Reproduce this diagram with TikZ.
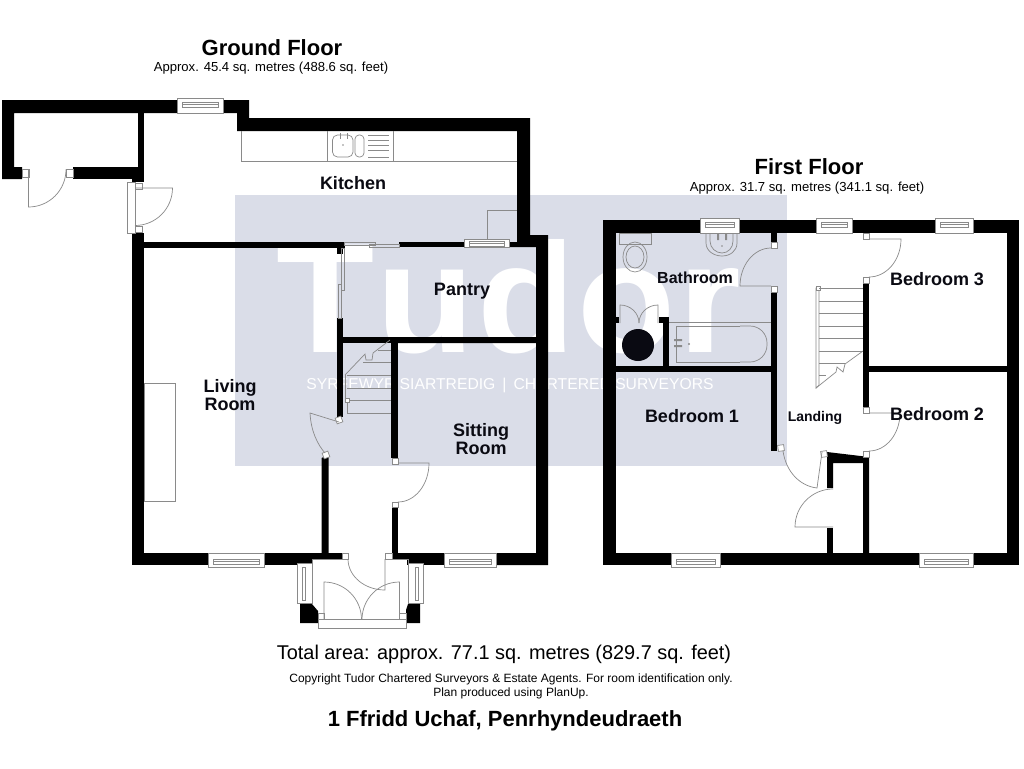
\documentclass[tikz,border=0pt]{standalone}
\usepackage{fontspec}
\setmainfont{Liberation Sans}
\definecolor{wmark}{HTML}{DADDE8}
\definecolor{thinline}{HTML}{8A8A8A}
\definecolor{inkblue}{HTML}{0A0A12}
\tikzset{
  wall/.style = {fill=black, draw=none},
  thin/.style = {draw=thinline, line width=0.7pt},
  room/.style = {font=\fontsize{18}{18}\selectfont\bfseries, align=center, text=inkblue},
  title/.style = {font=\fontsize{22}{24}\selectfont\bfseries},
  sub/.style = {font=\fontsize{13.1}{14}\selectfont}
}
\newcommand{\windowh}[5]{% x1, x2, ytop, ybot, inner top
  \draw[thin, fill=white] (#1,#3) rectangle (#2,#4);
  \draw[thin] (#1+5,#5) rectangle (#2-5,#5+5);
  \draw[thin] (#1+5,#5+2.5) -- (#2-5,#5+2.5);
}
\begin{document}
\begin{tikzpicture}[x=1pt, y=-1pt]
  \useasboundingbox (0,0) rectangle (1024,768);
  \fill[white] (0,0) rectangle (1024,768);

  % watermark
  \fill[wmark] (235,195) rectangle (787,466);
  \node[text=white, inner sep=0pt, font=\fontsize{156}{156}\selectfont\bfseries\addfontfeatures{Kerning=Off,LetterSpace=1.5}, xscale=1.03, anchor=base] (logo) at (508.5,352) {Tudor};
  \node[text=white, font=\fontsize{15.7}{16}\selectfont] (strap) at (510,385) {SYRFEWYR SIARTREDIG\hspace{7pt}|\hspace{7pt}CHARTERED SURVEYORS};

  % ground floor walls
  \fill[wall] (2,100) -- (177,100) -- (177,113) -- (14,113) -- (14,167) -- (22,167) -- (22,179) -- (2,179) -- cycle;
  \fill[wall] (223,100) -- (249,100) -- (249,118) -- (530,118) -- (530,235) -- (548,235) -- (548,565) -- (496,565) -- (496,553)
     -- (536,553) -- (536,343) -- (398,343) -- (398,337) -- (536,337) -- (536,247) -- (509,247) -- (509,242) -- (517,242) -- (517,131)
     -- (237,131) -- (237,113) -- (223,113) -- cycle;
  \fill[wall] (138,113) rectangle (144,182);
  \fill[wall] (73,167) rectangle (144,179);
  \fill[wall] (132,179) rectangle (144,182);
  \fill[wall] (132,233) rectangle (144,565);
  \fill[wall] (144,242) rectangle (345,248);
  \fill[wall] (399,242) rectangle (464,247);
  \fill[wall] (337,248) rectangle (343,254);
  \fill[wall] (337,318) rectangle (343,417);
  \fill[wall] (343,337) rectangle (398,343);
  \fill[wall] (391,337) rectangle (398,458);
  \fill[wall] (392,507) rectangle (398,553);
  \fill[wall] (321.5,458) -- (328.5,455) -- (328.5,553) -- (321.5,553) -- cycle;
  \fill[wall] (132,553) rectangle (342,565);
  \fill[wall] (392,553) rectangle (444,565);
  \fill[wall] (444,553) rectangle (548,565);

  % porch
  \fill[white] (313,559) rectangle (407,620);
  \fill[wall] (300,604) -- (312,604) -- (318,611) -- (318,623) -- (300,623) -- cycle;
  \fill[wall] (408,604) -- (420,604) -- (420,623) -- (406,623) -- (406,610) -- cycle;
  \draw[thin] (312,559) -- (342,559) (385,559) -- (408,559) (312,559) -- (312,604) (408,559) -- (408,604);
  \draw[thin, fill=white] (297,563) rectangle (312,603);
  \draw[thin] (302,567) rectangle (305,600);
  \draw[thin, fill=white] (408,563) rectangle (423,603);
  \draw[thin] (415,567) rectangle (418,600);
  \draw[thin, fill=white] (318,619) rectangle (406,628);
  \draw[thin, fill=white] (318,613) rectangle (324,619) (399.5,613) rectangle (406,619);
  \draw[thin, fill=white] (342,553) rectangle (348,559) (385,553) rectangle (392,559);
  \draw[thin] (324,619) -- (324,582) arc[start angle=270, end angle=360, radius=37.5];
  \draw[thin] (399.5,619) -- (399.5,582) arc[start angle=270, end angle=180, radius=37.5];
  \draw[thin] (385,559) -- (385,590) arc[start angle=90, end angle=180, x radius=37, y radius=31];

  % ground floor doors
  \draw[thin, fill=white] (22,169) rectangle (29,177) (66,169) rectangle (73,177);
  \draw[thin] (28.5,170) -- (28.5,207) arc[start angle=90, end angle=0, radius=37.5];
  \draw[thin, fill=white] (127,182) rectangle (135,233);
  \draw[thin, fill=white] (135,183) rectangle (142,189) (135,226) rectangle (142,232);
  \draw[thin] (135,188) -- (172.5,188) arc[start angle=0, end angle=90, radius=37.5];
  \draw[thin, fill=white] (392,458) rectangle (398,464) (392,502) rectangle (398,507);
  \draw[thin] (398,463) -- (429,463) arc[start angle=0, end angle=90, x radius=31, y radius=39];
  \draw[thin, fill=white, rotate around={20:(339,420)}] (336,417) rectangle (342,423);
  \draw[thin, fill=white, rotate around={20:(326,455)}] (323,452) rectangle (329,458);
  \draw[thin] (339,422) -- (310,413) .. controls (311,432) and (318,445) .. (325,453);

  % sliding doors, kitchen to pantry
  \draw[thin] (344,242) -- (375,242) -- (375,245) -- (344,245) -- cycle;
  \draw[thin] (369,244.5) -- (399,244.5) -- (399,247.5) -- (369,247.5) -- cycle;
  \draw[thin] (341,248) -- (344,248) -- (344,290) -- (341,290) -- cycle;
  \draw[thin] (338,284) -- (341,284) -- (341,318) -- (338,318) -- cycle;

  % stairs, ground
  \foreach \y in {375,388,400,413} {
    \draw[thin] (347,\y) -- (391,\y);
  }
  \draw[thin] (363,362.5) -- (391,362.5) (378,350.5) -- (391,350.5);
  \draw[thin] (345,375) -- (345,398) (347,402) -- (347,413);
  \draw[thin, fill=white] (345,398) rectangle (349,402);
  \draw[thin] (345,375) -- (365,354) -- (366,360) -- (372,360) -- (373,353) -- (390,340);

  % kitchen fittings
  \draw[thin] (241,131) -- (241,161.5) -- (517,161.5);
  \draw[thin] (327.5,131) -- (327.5,161.5) (393.5,131) -- (393.5,161.5);
  \draw[thin, rounded corners=5pt] (332.5,135) rectangle (353,157);
  \draw[thin, rounded corners=4pt] (355,135) rectangle (364,157);
  \foreach \y in {135,140,145,150,157} {
    \draw[thin] (368,\y) -- (389,\y);
  }
  \draw[thin] (340,133) -- (340,139) (347,133) -- (347,139);
  \fill[thinline] (343,145) circle (0.8);
  \draw[thin] (487,239) -- (487,210) -- (517,210);
  \draw[thin] (144,383) rectangle (175.5,501);

  % ground floor windows
  \windowh{177}{223}{98}{113}{102}
  \windowh{464}{509}{239}{247}{241}
  \windowh{208}{264}{553}{567}{559}
  \windowh{444}{496}{553}{567}{559}

  % first floor walls
  \fill[wall] (603,220) rectangle (700,233);
  \fill[wall] (739,220) rectangle (816,233);
  \fill[wall] (852,220) rectangle (935,233);
  \fill[wall] (973,220) rectangle (1019,233);
  \fill[wall] (603,220) rectangle (616,565);
  \fill[wall] (1007,220) rectangle (1019,565);
  \fill[wall] (603,553) rectangle (672,565);
  \fill[wall] (720,553) rectangle (919,565);
  \fill[wall] (973,553) rectangle (1019,565);
  \fill[wall] (771,233) rectangle (777,242);
  \fill[wall] (771,292) rectangle (777,451);
  \fill[wall] (616,366) rectangle (771,372);
  \fill[wall] (663,317) rectangle (669,366);
  \fill[wall] (659,317) rectangle (669,323);
  \fill[wall] (616,317) rectangle (619,323);
  \fill[wall] (863,283) rectangle (869,407);
  \fill[wall] (869,366) rectangle (1007,372);
  \fill[wall] (827,452) -- (869,457) -- (869,553) -- (863,553) -- (863,463) -- (833,463) -- (833,488) -- (827,488) -- cycle;
  \fill[wall] (827,528) rectangle (833,553);

  % first floor doors
  \draw[thin, fill=white] (771,242) rectangle (777,248) (771,286) rectangle (777,292);
  \draw[thin] (771,286) -- (740,286) arc[start angle=180, end angle=270, x radius=31, y radius=38];
  \draw[thin, fill=white] (863,233) rectangle (869,239) (863,277) rectangle (869,283);
  \draw[thin] (869,239) -- (901,239) arc[start angle=0, end angle=90, x radius=32, y radius=38];
  \draw[thin, fill=white] (863,407) rectangle (869,413) (863,451) rectangle (869,457);
  \draw[thin] (869,413) -- (900,413) arc[start angle=0, end angle=90, x radius=31, y radius=38];
  \draw[thin, fill=white, rotate around={8:(781,448)}] (778,445) rectangle (784,451);
  \draw[thin, fill=white, rotate around={8:(824,454)}] (821,451) rectangle (827,457);
  \draw[thin] (822,452) -- (817,488) .. controls (800,486) and (786,472) .. (783,451);
  \draw[thin] (833,527) -- (795,527) arc[start angle=180, end angle=270, x radius=38, y radius=38];

  % stairs, first
  \draw[thin] (816,288) -- (819,288) -- (819,385) -- (816,388) -- cycle;
  \draw[thin, fill=white] (816,286) rectangle (820,290);
  \foreach \y in {288,301,313,326,338,351} {
    \draw[thin] (819,\y) -- (863,\y);
  }
  \draw[thin] (819,363) -- (845,363) (819,375.5) -- (826,375.5);
  \draw[thin] (816,388) -- (836,372) -- (837,367) -- (843,372) -- (845,364) -- (863,351);

  % bathroom fittings
  \draw[thin] (619,233) rectangle (651,244);
  \draw[thin] (635,257) ellipse[x radius=12, y radius=15];
  \draw[thin] (635,257) ellipse[x radius=9, y radius=11];
  \draw[thin] (706,233) -- (706,243) .. controls (706,251) and (714,256) .. (722,256) .. controls (730,256) and (737,251) .. (737,243) -- (737,233);
  \draw[thin] (710,233) -- (710,241) .. controls (710,248) and (716,253) .. (722,253) .. controls (728,253) and (733,248) .. (733,241) -- (733,233);
  \fill[thinline] (717,234) rectangle (719,240) (725,234) rectangle (727,240);
  \fill[thinline] (722,246) circle (0.8);
  \draw[thin] (669,322) -- (771,322);
  \draw[thin, rounded corners=17pt] (740,326) -- (767,326) -- (767,362) -- (740,362);
  \draw[thin] (740,326) -- (676,326) -- (676,362) -- (740,362);
  \fill[thinline] (674,339) rectangle (682,341) (674,345) rectangle (682,347);
  \fill[thinline] (689,344) circle (1.2);
  \draw[thin] (620,323) -- (620,305) arc[start angle=270, end angle=360, x radius=19, y radius=18];
  \draw[thin] (658,323) -- (658,305) arc[start angle=270, end angle=180, x radius=19, y radius=18];
  \fill[inkblue] (638,345) circle (16);

  % first floor windows
  \windowh{700}{739}{218}{233}{222}
  \windowh{816}{852}{218}{233}{222}
  \windowh{935}{973}{218}{233}{222}
  \windowh{671}{720}{553}{567}{559}
  \windowh{919}{973}{553}{567}{559}

  % labels
  \node[title] (ground) at (272,48) {Ground Floor};
  \node[sub] (groundarea) at (271,68) {Approx. 45.4 sq. metres (488.6 sq. feet)};
  \node[title] (first) at (809,167) {First Floor};
  \node[sub] (firstarea) at (807,188) {Approx. 31.7 sq. metres (341.1 sq. feet)};
  \node[room] (kitchen) at (353,183) {Kitchen};
  \node[room] (pantry) at (462,291) {Pantry};
  \node[room] (living) at (230,395) {Living\\Room};
  \node[room] (sitting) at (481,439) {Sitting\\Room};
  \node[room, font=\fontsize{16}{16}\selectfont\bfseries] (bath) at (695,278) {Bathroom};
  \node[room] (bedone) at (692,416) {Bedroom 1};
  \node[room] (bedtwo) at (937,414) {Bedroom 2};
  \node[room] (bedthree) at (937,279) {Bedroom 3};
  \node[room, font=\fontsize{14}{16}\selectfont\bfseries] (landing) at (815,418) {Landing};
  \node[font=\fontsize{19.9}{20}\selectfont] (total) at (504,654) {Total area: approx. 77.1 sq. metres (829.7 sq. feet)};
  \node[font=\fontsize{12}{14}\selectfont, align=center] (copy) at (511,686) {Copyright Tudor Chartered Surveyors \& Estate Agents. For room identification only.\\Plan produced using PlanUp.};
  \node[font=\fontsize{22}{22}\selectfont\bfseries] (address) at (505,721) {1 Ffridd Uchaf, Penrhyndeudraeth};
\end{tikzpicture}
\end{document}
